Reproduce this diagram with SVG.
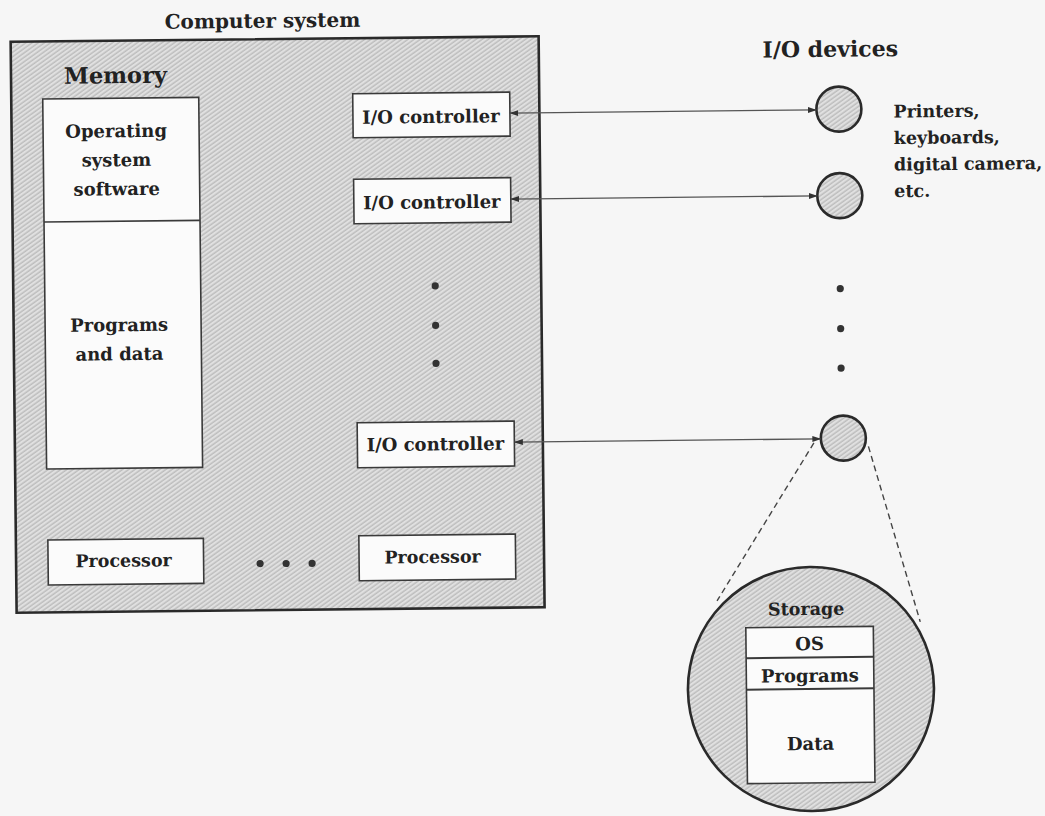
<svg xmlns="http://www.w3.org/2000/svg" width="1045" height="816" viewBox="0 0 1045 816">
<defs>
<pattern id="hatch" width="3.6" height="3.6" patternUnits="userSpaceOnUse" patternTransform="rotate(55)">
<rect width="3.6" height="3.6" fill="#e0e0e0"/>
<line x1="1" y1="0" x2="1" y2="3.6" stroke="#a8a8a8" stroke-width="0.9"/>
</pattern>
<marker id="ah" markerWidth="9" markerHeight="7" refX="8.5" refY="3.5" orient="auto-start-reverse" markerUnits="userSpaceOnUse">
<path d="M0,0.5 L9,3.5 L0,6.5 z" fill="#333"/>
</marker>
<style>
text{font-family:"DejaVu Serif","Liberation Serif",serif;font-weight:bold;fill:#222;text-anchor:middle}
.box{fill:#fbfbfb;stroke:#3a3a3a;stroke-width:1.6}
.dev{fill:url(#hatch);stroke:#2a2a2a;stroke-width:2.6}
.conn{stroke:#555;stroke-width:1.3;fill:none}
.dash{stroke:#444;stroke-width:1.4;fill:none;stroke-dasharray:6 4}
.dot{fill:#333}
.lbl{font-size:18px}
.dl{font-size:17.5px;text-anchor:start}
</style>
</defs>
<rect width="1045" height="816" fill="#f6f6f6"/>
<g transform="rotate(-0.6 522 408)">
<g id="computer-system">
<text x="266.5" y="25" style="font-size:20px">Computer system</text>
<rect x="14.5" y="36.5" width="528" height="571" fill="url(#hatch)" stroke="#2a2a2a" stroke-width="2.6"/>
</g>
<g id="memory">
<text x="119" y="79" style="font-size:22.5px">Memory</text>
<rect class="box" x="46" y="94" width="156" height="370"/>
<line x1="46" y1="217" x2="202" y2="217" stroke="#3a3a3a" stroke-width="1.6"/>
<text class="lbl" x="119" y="133">Operating</text>
<text class="lbl" x="119" y="162">system</text>
<text class="lbl" x="119" y="191">software</text>
<text class="lbl" x="120" y="327">Programs</text>
<text class="lbl" x="120" y="356">and data</text>
</g>
<g id="io-controller-1">
<rect class="box" x="356" y="92" width="157" height="44"/>
<text class="lbl" x="434" y="122">I/O controller</text>
</g>
<g id="io-controller-2">
<rect class="box" x="356" y="177.5" width="157" height="44.5"/>
<text class="lbl" x="434" y="207.5">I/O controller</text>
</g>
<g id="io-controller-3">
<rect class="box" x="357" y="421" width="157" height="45"/>
<text class="lbl" x="435" y="449.5">I/O controller</text>
</g>
<g id="controller-dots">
<circle class="dot" cx="436.5" cy="285" r="3.6"/>
<circle class="dot" cx="436.5" cy="324.5" r="3.6"/>
<circle class="dot" cx="436.5" cy="362.5" r="3.6"/>
</g>
<g id="processor-1">
<rect class="box" x="46.5" y="535" width="155.5" height="45"/>
<text class="lbl" x="122" y="562.5" style="font-size:17.5px">Processor</text>
</g>
<g id="processor-dots">
<circle class="dot" cx="258.5" cy="560.8" r="3.6"/>
<circle class="dot" cx="284.5" cy="561" r="3.6"/>
<circle class="dot" cx="310.5" cy="561.2" r="3.6"/>
</g>
<g id="processor-2">
<rect class="box" x="357.5" y="534" width="156.5" height="45"/>
<text class="lbl" x="431" y="562" style="font-size:17.5px">Processor</text>
</g>
<g id="io-devices">
<text x="834" y="60" style="font-size:22px">I/O devices</text>
</g>
<g id="device-1">
<circle class="dev" cx="842" cy="112.5" r="22.5"/>
</g>
<g id="device-2">
<circle class="dev" cx="842" cy="199" r="22.5"/>
</g>
<g id="device-dots">
<circle class="dot" cx="841.5" cy="292" r="3.6"/>
<circle class="dot" cx="841.5" cy="332" r="3.6"/>
<circle class="dot" cx="841.5" cy="371.5" r="3.6"/>
</g>
<g id="device-3">
<circle class="dev" cx="843" cy="441.5" r="22.5"/>
</g>
<g id="device-label">
<text class="dl" x="896.5" y="121.5">Printers,</text>
<text class="dl" x="896.5" y="148">keyboards,</text>
<text class="dl" x="896.5" y="174.5">digital camera,</text>
<text class="dl" x="896.5" y="201">etc.</text>
</g>
<g id="storage">
<ellipse class="dev" cx="808" cy="692" rx="123" ry="122"/>
<text x="804" y="618" style="font-size:17.5px">Storage</text>
<rect class="box" x="743.5" y="630" width="127.5" height="156" stroke-width="2.2"/>
<line x1="743.5" y1="660.5" x2="871" y2="660.5" stroke="#3a3a3a" stroke-width="2"/>
<line x1="743.5" y1="692" x2="871" y2="692" stroke="#3a3a3a" stroke-width="2"/>
<text class="lbl" x="807" y="653">OS</text>
<text class="lbl" x="807" y="685">Programs</text>
<text class="lbl" x="807" y="753">Data</text>
</g>
<g id="connectors">
<line class="conn" x1="513" y1="113" x2="819.5" y2="113" marker-start="url(#ah)" marker-end="url(#ah)"/>
<line class="conn" x1="513" y1="199" x2="819.5" y2="199" marker-start="url(#ah)" marker-end="url(#ah)"/>
<line class="conn" x1="514" y1="442" x2="820.5" y2="442" marker-start="url(#ah)" marker-end="url(#ah)"/>
<line class="dash" x1="813.5" y1="446" x2="715" y2="603"/>
<line class="dash" x1="868" y1="450" x2="918" y2="626"/>
</g>
</g>
</svg>
